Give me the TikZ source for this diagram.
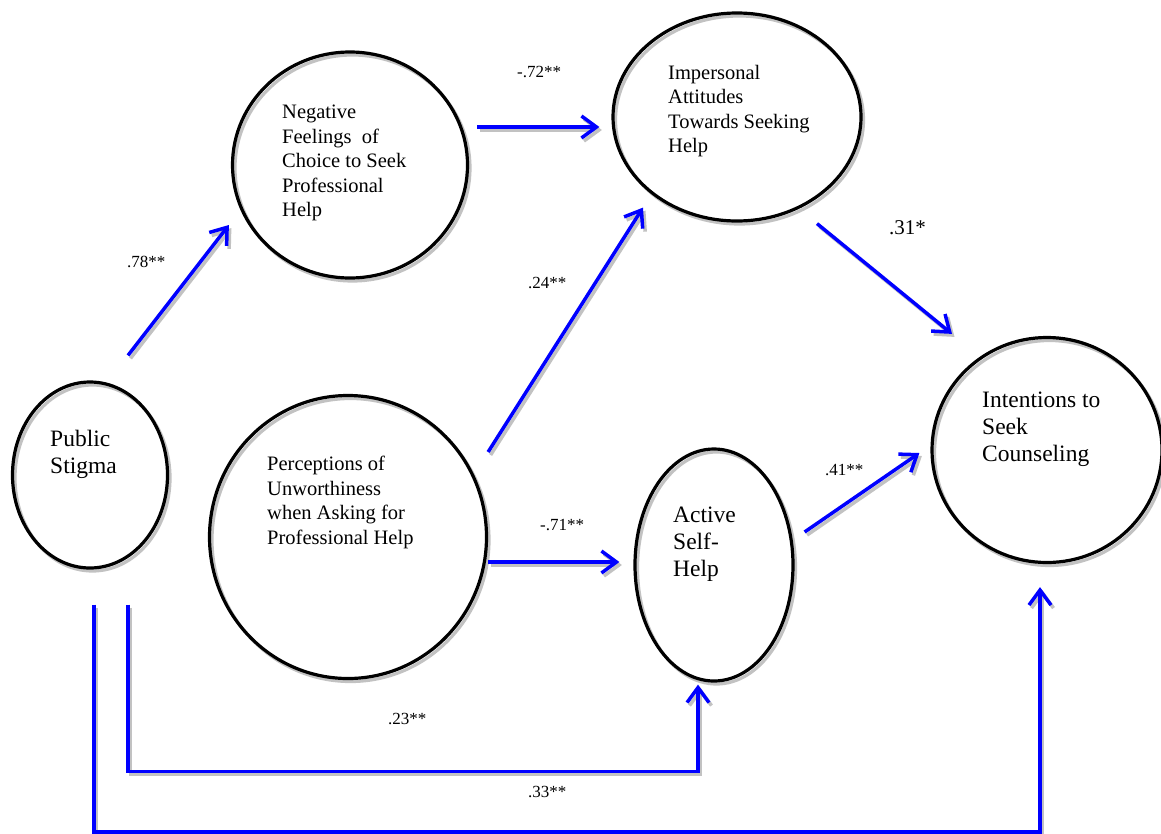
\documentclass[tikz,border=0pt]{standalone}
\usepackage{fontspec}
\setmainfont{Liberation Serif}
\usetikzlibrary{calc,arrows.meta,shapes.geometric}

% a blue path with its light grey offset shadow
\newcommand\pathlink[1]{\draw[halo] #1; \draw[link] #1;}

\begin{document}
\begin{tikzpicture}[x=1pt,y=-1pt,
  latent/.style={ellipse, draw=black, line width=3.2pt, inner sep=0pt,
    preaction={draw=black!24, line width=3.2pt,
      transform canvas={shift={(2.5pt,-3pt)}}}},
  tipshape/.style={-{Straight Barb[length=15pt,width=22pt]}},
  halo/.style={draw=black!24, line width=3.5pt, tipshape,
    transform canvas={shift={(2.5pt,-3pt)}}},
  link/.style={draw=blue, line width=3.5pt, tipshape},
  vtext/.style={align=left, inner sep=0pt, anchor=north west},
  big/.style={font=\fontsize{23.5}{27}\selectfont},
  small/.style={font=\fontsize{20.5}{24.5}\selectfont},
  coef/.style={font=\fontsize{17}{20}\selectfont, anchor=base west, inner sep=0pt}]

\useasboundingbox (0,0) rectangle (1161,833);

% latent variables
\node[latent, minimum width=155pt, minimum height=186pt] (ps)  at (90,475)   {};
\node[latent, minimum width=235pt, minimum height=226pt] (neg) at (350,165)  {};
\node[latent, minimum width=248pt, minimum height=208pt] (imp) at (737,117)  {};
\node[latent, minimum width=277pt, minimum height=283pt] (per) at (348,537)  {};
\node[latent, minimum width=158pt, minimum height=232pt] (act) at (714,565)  {};
\node[latent, minimum width=230pt, minimum height=225pt] (int) at (1047,450) {};

% their names
\node[vtext, big]   (psT)  at (50,430)  {Public\\Stigma};
\node[vtext, small] (negT) at (282,105) {Negative\\Feelings\ \ of\\Choice to Seek\\Professional\\Help};
\node[vtext, small] (impT) at (668,65)  {Impersonal\\Attitudes\\Towards Seeking\\Help};
\node[vtext, small] (perT) at (267,456) {Perceptions of\\Unworthiness\\when Asking for\\Professional Help};
\node[vtext, big]   (actT) at (673,507) {Active\\Self-\\Help};
\node[vtext, big]   (intT) at (982,392) {Intentions to\\Seek\\Counseling};

% paths
\pathlink{($(ps.north)+(38,-25)$) -- ($(neg.west)+(-2,60)$)}
\pathlink{($(neg.east)+(8,-38)$) -- ($(imp.west)+(-12,10)$)}
\pathlink{($(per.east)+(0,-85)$) -- ($(imp.south)+(-94,-15)$)}
\pathlink{($(imp.south)+(80,1)$) -- ($(int.north)+(-95,-2)$)}
\pathlink{($(per.east)+(0,25)$) -- ($(act.west)+(-14,-3)$)}
\pathlink{($(act.east)+(10,-33)$) -- ($(int.west)+(-11,3)$)}
\pathlink{($(ps.south)+(38,35)$) |- ($(act.south)+(-16,89)$) -- ($(act.south)+(-16,2)$)}
\pathlink{($(ps.south)+(4,35)$) |- ($(int.south)+(-7,268)$) -- ($(int.south)+(-7,23)$)}

% path coefficients
\node[coef] (c1) at (127,267) {.78**};
\node[coef] (c2) at (517,77)  {-.72**};
\node[coef] (c3) at (528,288) {.24**};
\node[coef, font=\fontsize{21}{24}\selectfont] (c4) at (889,234) {.31*};
\node[coef] (c5) at (540,530) {-.71**};
\node[coef] (c6) at (825,475) {.41**};
\node[coef] (c7) at (388,724) {.23**};
\node[coef] (c8) at (528,797) {.33**};
\end{tikzpicture}
\end{document}
